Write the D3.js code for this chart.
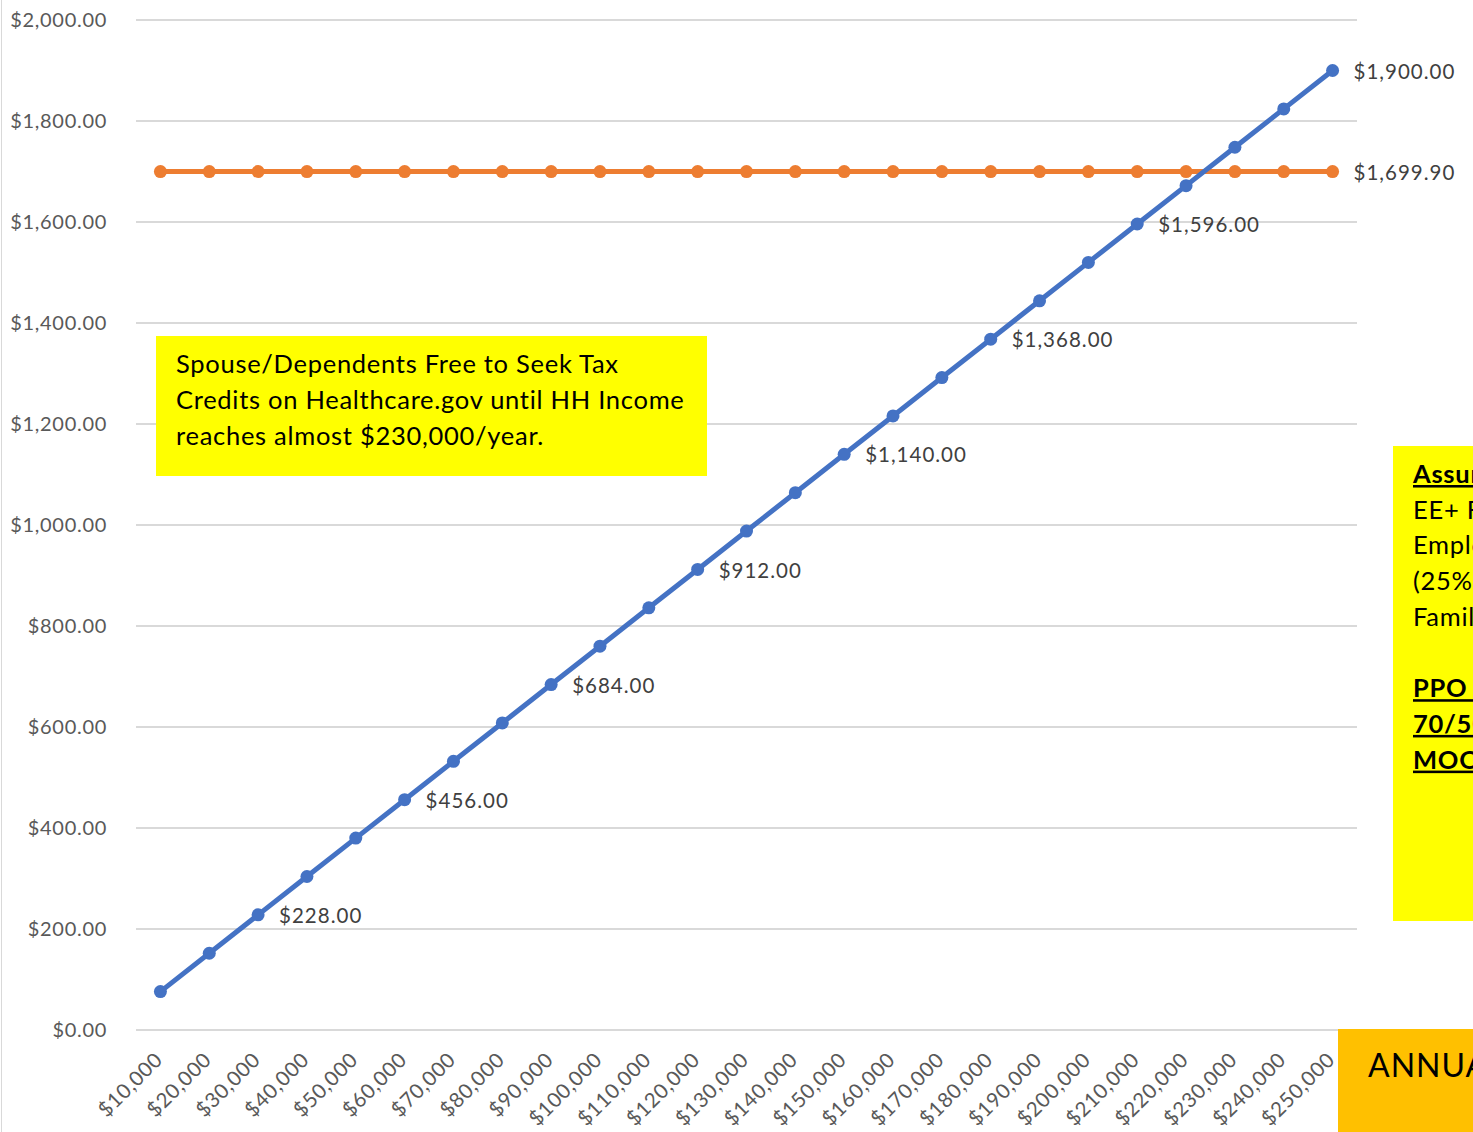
<!DOCTYPE html>
<html><head><meta charset="utf-8">
<script src="https://cdn.jsdelivr.net/npm/d3@7"></script>
<style>body{margin:0;background:#fff;overflow:hidden}svg{display:block}</style>
</head><body>
<svg id="c" width="1473" height="1132"></svg>
<script>
const categories = ["$10,000","$20,000","$30,000","$40,000","$50,000","$60,000","$70,000","$80,000","$90,000","$100,000","$110,000","$120,000","$130,000","$140,000","$150,000","$160,000","$170,000","$180,000","$190,000","$200,000","$210,000","$220,000","$230,000","$240,000","$250,000"];
const employeeCost = [76,152,228,304,380,456,532,608,684,760,836,912,988,1064,1140,1216,1292,1368,1444,1520,1596,1672,1748,1824,1900];
const familyPremium = [1699.9,1699.9,1699.9,1699.9,1699.9,1699.9,1699.9,1699.9,1699.9,1699.9,1699.9,1699.9,1699.9,1699.9,1699.9,1699.9,1699.9,1699.9,1699.9,1699.9,1699.9,1699.9,1699.9,1699.9,1699.9];
const employeeLabelIdx = [2,5,8,11,14,17,20,24];
const premiumLabelIdx = [24];
const yTicks = [0,200,400,600,800,1000,1200,1400,1600,1800,2000];
const noteLines = ["Spouse/Dependents Free to Seek Tax","Credits on Healthcare.gov until HH Income","reaches almost $230,000/year."];
const sideLines = [{t:"Assumptions:",b:true},{t:"EE+ Family",b:false},{t:"Employer Pays",b:false},{t:"(25% of",b:false},{t:"Family)",b:false},{t:"",b:false},{t:"PPO Silver",b:true},{t:"70/50",b:true},{t:"MOOP",b:true}];
const bottomTitle = "ANNUAL HOUSEHOLD INCOME";

const svg = d3.select("#c");
const font = "Lato, 'Open Sans', sans-serif";
const x = d3.scalePoint().domain(categories).range([136,1357]).padding(0.5);
const y = d3.scaleLinear().domain([0,2000]).range([1030,20]);
const fmt = d3.format("$,.2f");

// left border
svg.append("line").attr("x1",1.5).attr("x2",1.5).attr("y1",0).attr("y2",1132).attr("stroke","#d9d9d9").attr("stroke-width",1);

// grid
svg.append("g").selectAll("line").data(yTicks).join("line")
  .attr("x1",136).attr("x2",1357).attr("y1",d=>y(d)).attr("y2",d=>y(d))
  .attr("stroke","#d9d9d9").attr("stroke-width",2);

// y axis labels
const yAxis = d3.axisLeft(y).tickValues(yTicks).tickFormat(fmt).tickSize(0).tickPadding(0);
const yg = svg.append("g").attr("transform","translate(107,0)").call(yAxis);
yg.select(".domain").remove();
yg.selectAll("text").attr("font-family",font).attr("font-size",20).attr("letter-spacing","0.7px").attr("fill","#595959");

// x axis labels
const xAxis = d3.axisBottom(x).tickSize(0).tickPadding(0);
const xg = svg.append("g").attr("transform","translate(0,1030)").call(xAxis);
xg.select(".domain").remove();
xg.selectAll("text").attr("font-family",font).attr("font-size",20.5).attr("letter-spacing","0.7px").attr("fill","#595959")
  .attr("text-anchor","end").attr("dy",0).attr("y",0)
  .attr("transform","translate(3,31) rotate(-45)");

// series
function drawSeries(vals, color) {
  const line = d3.line().x((d,i)=>x(categories[i])).y(d=>y(d));
  svg.append("path").datum(vals).attr("d",line).attr("fill","none").attr("stroke",color).attr("stroke-width",5).attr("stroke-linejoin","round");
  svg.append("g").selectAll("circle").data(vals).join("circle")
    .attr("cx",(d,i)=>x(categories[i])).attr("cy",d=>y(d)).attr("r",6.5).attr("fill",color);
}
drawSeries(familyPremium,"#ED7D31");
drawSeries(employeeCost,"#4472C4");

function drawLabels(vals, idxs){
  svg.append("g").selectAll("text").data(idxs).join("text")
    .attr("x",i=>x(categories[i])+21).attr("y",i=>y(vals[i])+1).attr("dy","0.35em")
    .attr("font-family",font).attr("font-size",20.5).attr("letter-spacing","1px").attr("fill","#404040")
    .text(i=>fmt(vals[i]));
}
drawLabels(employeeCost, employeeLabelIdx);
drawLabels(familyPremium, premiumLabelIdx);

// note box
svg.append("rect").attr("x",156).attr("y",336).attr("width",551).attr("height",140).attr("fill","#FFFF00");
svg.append("g").selectAll("text").data(noteLines).join("text")
  .attr("x",176).attr("y",(d,i)=>373+i*36).attr("font-family",font).attr("font-size",25.5).attr("letter-spacing","0.72px").attr("fill","#000").text(d=>d);

// side box
svg.append("rect").attr("x",1393).attr("y",446).attr("width",100).attr("height",475).attr("fill","#FFFF00");
svg.append("g").selectAll("text").data(sideLines).join("text")
  .attr("x",1413).attr("y",(d,i)=>483+i*35.7).attr("font-family",font).attr("font-size",25.5).attr("letter-spacing","0.72px")
  .attr("font-weight",d=>d.b?"bold":"normal").attr("text-decoration",d=>d.b?"underline":"none").attr("fill","#000").text(d=>d.t);

// bottom title box
svg.append("rect").attr("x",1338).attr("y",1029).attr("width",150).attr("height",110).attr("fill","#FFC000");
svg.append("text").attr("x",1368).attr("y",1077).attr("font-family",font).attr("font-size",32).attr("letter-spacing","1px").attr("fill","#000").text(bottomTitle);
</script>
</body></html>
